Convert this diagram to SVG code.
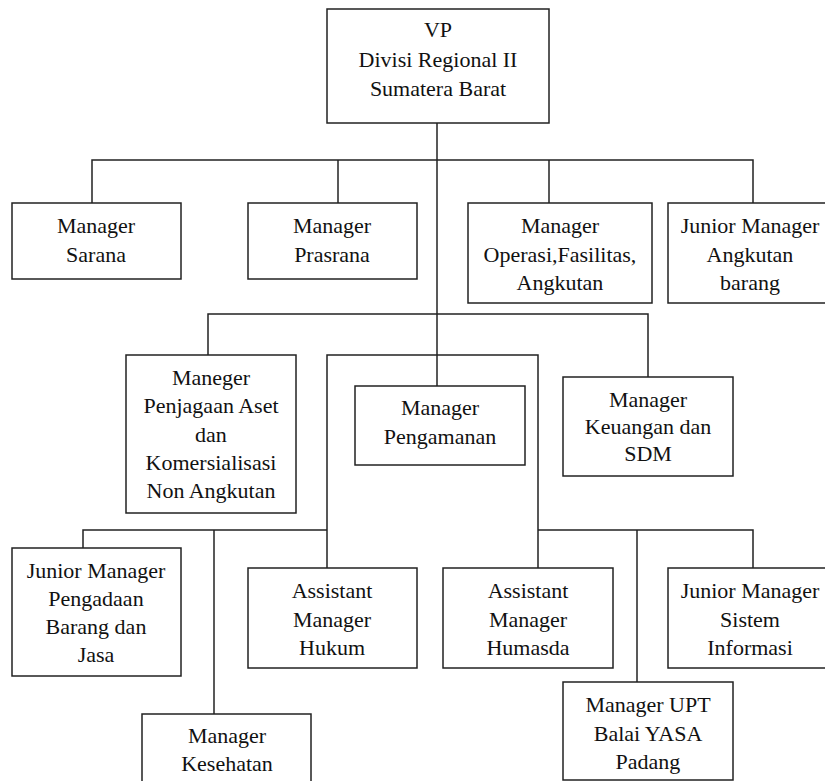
<svg xmlns="http://www.w3.org/2000/svg" width="825" height="781" viewBox="0 0 825 781">
<style>
.box{fill:#fff;stroke:#222;stroke-width:1.5}
.ln{fill:none;stroke:#222;stroke-width:1.5}
.t text{font-size:22px;fill:#111;text-anchor:middle}
</style>
<rect width="825" height="781" fill="#fff"/>
<g id="connectors" class="ln">
<path d="M437,123 V386"/>
<path d="M92,203 V160 H753 V203"/>
<path d="M338,160 V203"/>
<path d="M549,160 V203"/>
<path d="M208,355 V314 H648 V377"/>
<path d="M327,568 V355 H538 V568"/>
<path d="M83,548 V530 H327"/>
<path d="M214,530 V714"/>
<path d="M538,530 H753 V568"/>
<path d="M637,530 V682"/>
</g>
<g class="t" font-family="Liberation Serif, DejaVu Serif, serif">
<g id="vp"><rect class="box" x="327" y="9" width="222" height="114"/>
<text x="438" y="37">VP</text><text x="438" y="67">Divisi Regional II</text><text x="438" y="96">Sumatera Barat</text></g>
<g id="sarana"><rect class="box" x="12" y="203" width="169" height="76"/>
<text x="96" y="233">Manager</text><text x="96" y="262">Sarana</text></g>
<g id="prasrana"><rect class="box" x="248" y="203" width="169" height="76"/>
<text x="332" y="233">Manager</text><text x="332" y="262">Prasrana</text></g>
<g id="operasi"><rect class="box" x="468" y="203" width="184" height="100"/>
<text x="560" y="233">Manager</text><text x="560" y="262">Operasi,Fasilitas,</text><text x="560" y="290">Angkutan</text></g>
<g id="angkutan"><rect class="box" x="668" y="203" width="162" height="100"/>
<text x="750" y="233">Junior Manager</text><text x="750" y="262">Angkutan</text><text x="750" y="290">barang</text></g>
<g id="penjagaan"><rect class="box" x="126" y="355" width="170" height="158"/>
<text x="211" y="385">Maneger</text><text x="211" y="413">Penjagaan Aset</text><text x="211" y="442">dan</text><text x="211" y="470">Komersialisasi</text><text x="211" y="498">Non Angkutan</text></g>
<g id="pengamanan"><rect class="box" x="355" y="386" width="170" height="79"/>
<text x="440" y="415">Manager</text><text x="440" y="444">Pengamanan</text></g>
<g id="keuangan"><rect class="box" x="563" y="377" width="170" height="99"/>
<text x="648" y="407">Manager</text><text x="648" y="434">Keuangan dan</text><text x="648" y="461">SDM</text></g>
<g id="pengadaan"><rect class="box" x="12" y="548" width="169" height="128"/>
<text x="96" y="578">Junior Manager</text><text x="96" y="606">Pengadaan</text><text x="96" y="634">Barang dan</text><text x="96" y="662">Jasa</text></g>
<g id="hukum"><rect class="box" x="248" y="568" width="169" height="100"/>
<text x="332" y="598">Assistant</text><text x="332" y="627">Manager</text><text x="332" y="655">Hukum</text></g>
<g id="humasda"><rect class="box" x="443" y="568" width="170" height="100"/>
<text x="528" y="598">Assistant</text><text x="528" y="627">Manager</text><text x="528" y="655">Humasda</text></g>
<g id="sistem"><rect class="box" x="668" y="568" width="162" height="100"/>
<text x="750" y="598">Junior Manager</text><text x="750" y="627">Sistem</text><text x="750" y="655">Informasi</text></g>
<g id="upt"><rect class="box" x="563" y="682" width="170" height="98"/>
<text x="648" y="712">Manager UPT</text><text x="648" y="741">Balai YASA</text><text x="648" y="769">Padang</text></g>
<g id="kesehatan"><rect class="box" x="142" y="714" width="169" height="80"/>
<text x="227" y="743">Manager</text><text x="227" y="771">Kesehatan</text></g>
</g>
</svg>
